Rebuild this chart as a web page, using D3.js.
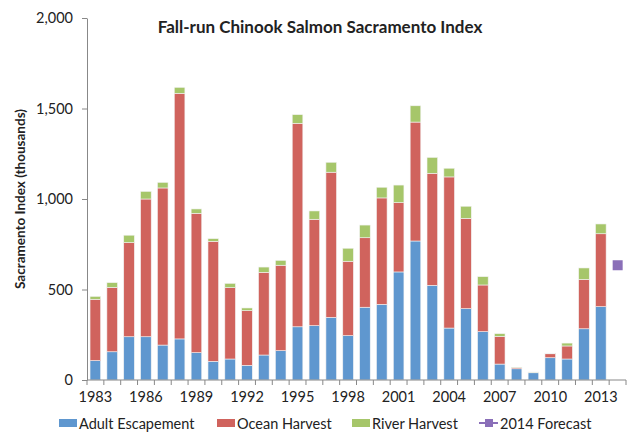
<!DOCTYPE html>
<html>
<head>
<meta charset="utf-8">
<script src="https://cdn.jsdelivr.net/npm/d3@7"></script>
<style>
  body { margin: 0; background: #fff; }
  text { font-family: Lato, "Open Sans", sans-serif; fill: #222; }
</style>
</head>
<body>
<script>
// data (thousands of fish)
var years = d3.range(1983, 2015);
var escapement = [107, 156, 239, 239, 193, 227, 151, 103, 116, 81, 138, 162, 294, 300, 346, 245,
                  402, 418, 597, 768, 523, 287, 394, 267, 88, 62, 40, 123, 116, 283, 405, 0];
var ocean = [339, 356, 520, 761, 868, 1357, 770, 663, 394, 302, 457, 472, 1124, 588, 802, 411,
             384, 588, 383, 657, 619, 835, 499, 258, 153, 6, 3, 22, 72, 273, 403, 0];
var river = [16, 26, 41, 42, 31, 33, 24, 15, 24, 15, 29, 27, 48, 46, 55, 72,
             70, 59, 97, 90, 88, 48, 67, 46, 15, 2, 1, 3, 16, 63, 54, 0];
var forecastYear = 2014, forecastValue = 634;
var tickYears = [1983, 1986, 1989, 1992, 1995, 1998, 2001, 2004, 2007, 2010, 2013];
var yTicks = [0, 500, 1000, 1500, 2000];

var seriesNames = ["Adult Escapement", "Ocean Harvest", "River Harvest"];
var colors = ["#5f97cf", "#d0635d", "#a6c66a"];
var purple = "#8a6fb8";

var margin = {left: 87, right: 14, top: 18, bottom: 56},
    width = 640 - margin.left - margin.right,
    height = 436 - margin.top - margin.bottom;

var svg = d3.select("body").append("svg")
    .attr("width", 640)
    .attr("height", 436);

var g = svg.append("g")
    .attr("transform", "translate(" + margin.left + "," + margin.top + ")");

var x = d3.scaleBand().domain(years).range([0, width]).paddingInner(0.37).paddingOuter(0.18);
var y = d3.scaleLinear().domain([0, 2000]).range([height, 0]);

// stack the three parts
var rows = years.map(function(yr, i) {
    return {year: yr, e: escapement[i], o: ocean[i], r: river[i]};
});
var stacked = d3.stack().keys(["e", "o", "r"])(rows);

g.selectAll(".layer")
    .data(stacked)
    .enter().append("g")
    .attr("fill", function(d, i) { return colors[i]; })
    .selectAll("rect")
    .data(function(d) { return d; })
    .enter().append("rect")
    .filter(function(d) { return d[1] > d[0]; })
    .attr("x", function(d) { return x(d.data.year); })
    .attr("width", x.bandwidth())
    .attr("y", function(d) { return y(d[1]); })
    .attr("height", function(d) { return y(d[0]) - y(d[1]); })
    .attr("stroke", "#f3f3f3")
    .attr("stroke-width", 0.6);

// forecast marker
g.append("rect")
    .attr("x", x(forecastYear) + x.bandwidth() / 2 - 5)
    .attr("y", y(forecastValue) - 5)
    .attr("width", 10)
    .attr("height", 10)
    .attr("fill", purple);

// y axis
var yAxis = g.append("g")
    .call(d3.axisLeft(y).tickValues(yTicks).tickFormat(d3.format(",")).tickSize(5).tickSizeOuter(0));
yAxis.select(".domain").attr("stroke", "#888");
yAxis.selectAll(".tick line").attr("stroke", "#888");
yAxis.selectAll("text").attr("font-size", 14.5).attr("x", -14).attr("fill", "#222");

// x axis: ticks between the bands
var xg = g.append("g").attr("transform", "translate(0," + height + ")");
xg.append("line").attr("x1", 0).attr("x2", width).attr("stroke", "#888");
xg.selectAll(".tk")
    .data(d3.range(years.length + 1))
    .enter().append("line")
    .attr("x1", function(i) { return i * width / years.length; })
    .attr("x2", function(i) { return i * width / years.length; })
    .attr("y1", 0).attr("y2", 5)
    .attr("stroke", "#888");
xg.selectAll(".lbl")
    .data(tickYears)
    .enter().append("text")
    .attr("x", function(d) { return x(d) + x.bandwidth() / 2; })
    .attr("y", 22)
    .attr("text-anchor", "middle")
    .attr("font-size", 14.5)
    .text(function(d) { return d; });

// title
svg.append("text")
    .attr("x", 320).attr("y", 33)
    .attr("text-anchor", "middle")
    .attr("font-size", 17)
    .attr("font-weight", "bold")
    .text("Fall-run Chinook Salmon Sacramento Index");

// y label
svg.append("text")
    .attr("transform", "translate(25," + (margin.top + height / 2) + ") rotate(-90)")
    .attr("text-anchor", "middle")
    .attr("font-size", 13.5)
    .attr("font-weight", "bold")
    .text("Sacramento Index (thousands)");

// legend
var legX = [59, 217, 352];
seriesNames.forEach(function(name, i) {
    svg.append("rect")
        .attr("x", legX[i]).attr("y", 419)
        .attr("width", 18).attr("height", 8)
        .attr("fill", colors[i]);
    svg.append("text")
        .attr("x", legX[i] + 20).attr("y", 429)
        .attr("font-size", 14.5)
        .text(name);
});
svg.append("line")
    .attr("x1", 479).attr("x2", 498).attr("y1", 423).attr("y2", 423)
    .attr("stroke", purple).attr("stroke-width", 2);
svg.append("rect")
    .attr("x", 485).attr("y", 419).attr("width", 8).attr("height", 8)
    .attr("fill", purple);
svg.append("text")
    .attr("x", 500).attr("y", 429)
    .attr("font-size", 14.5)
    .text("2014 Forecast");
</script>
</body>
</html>
